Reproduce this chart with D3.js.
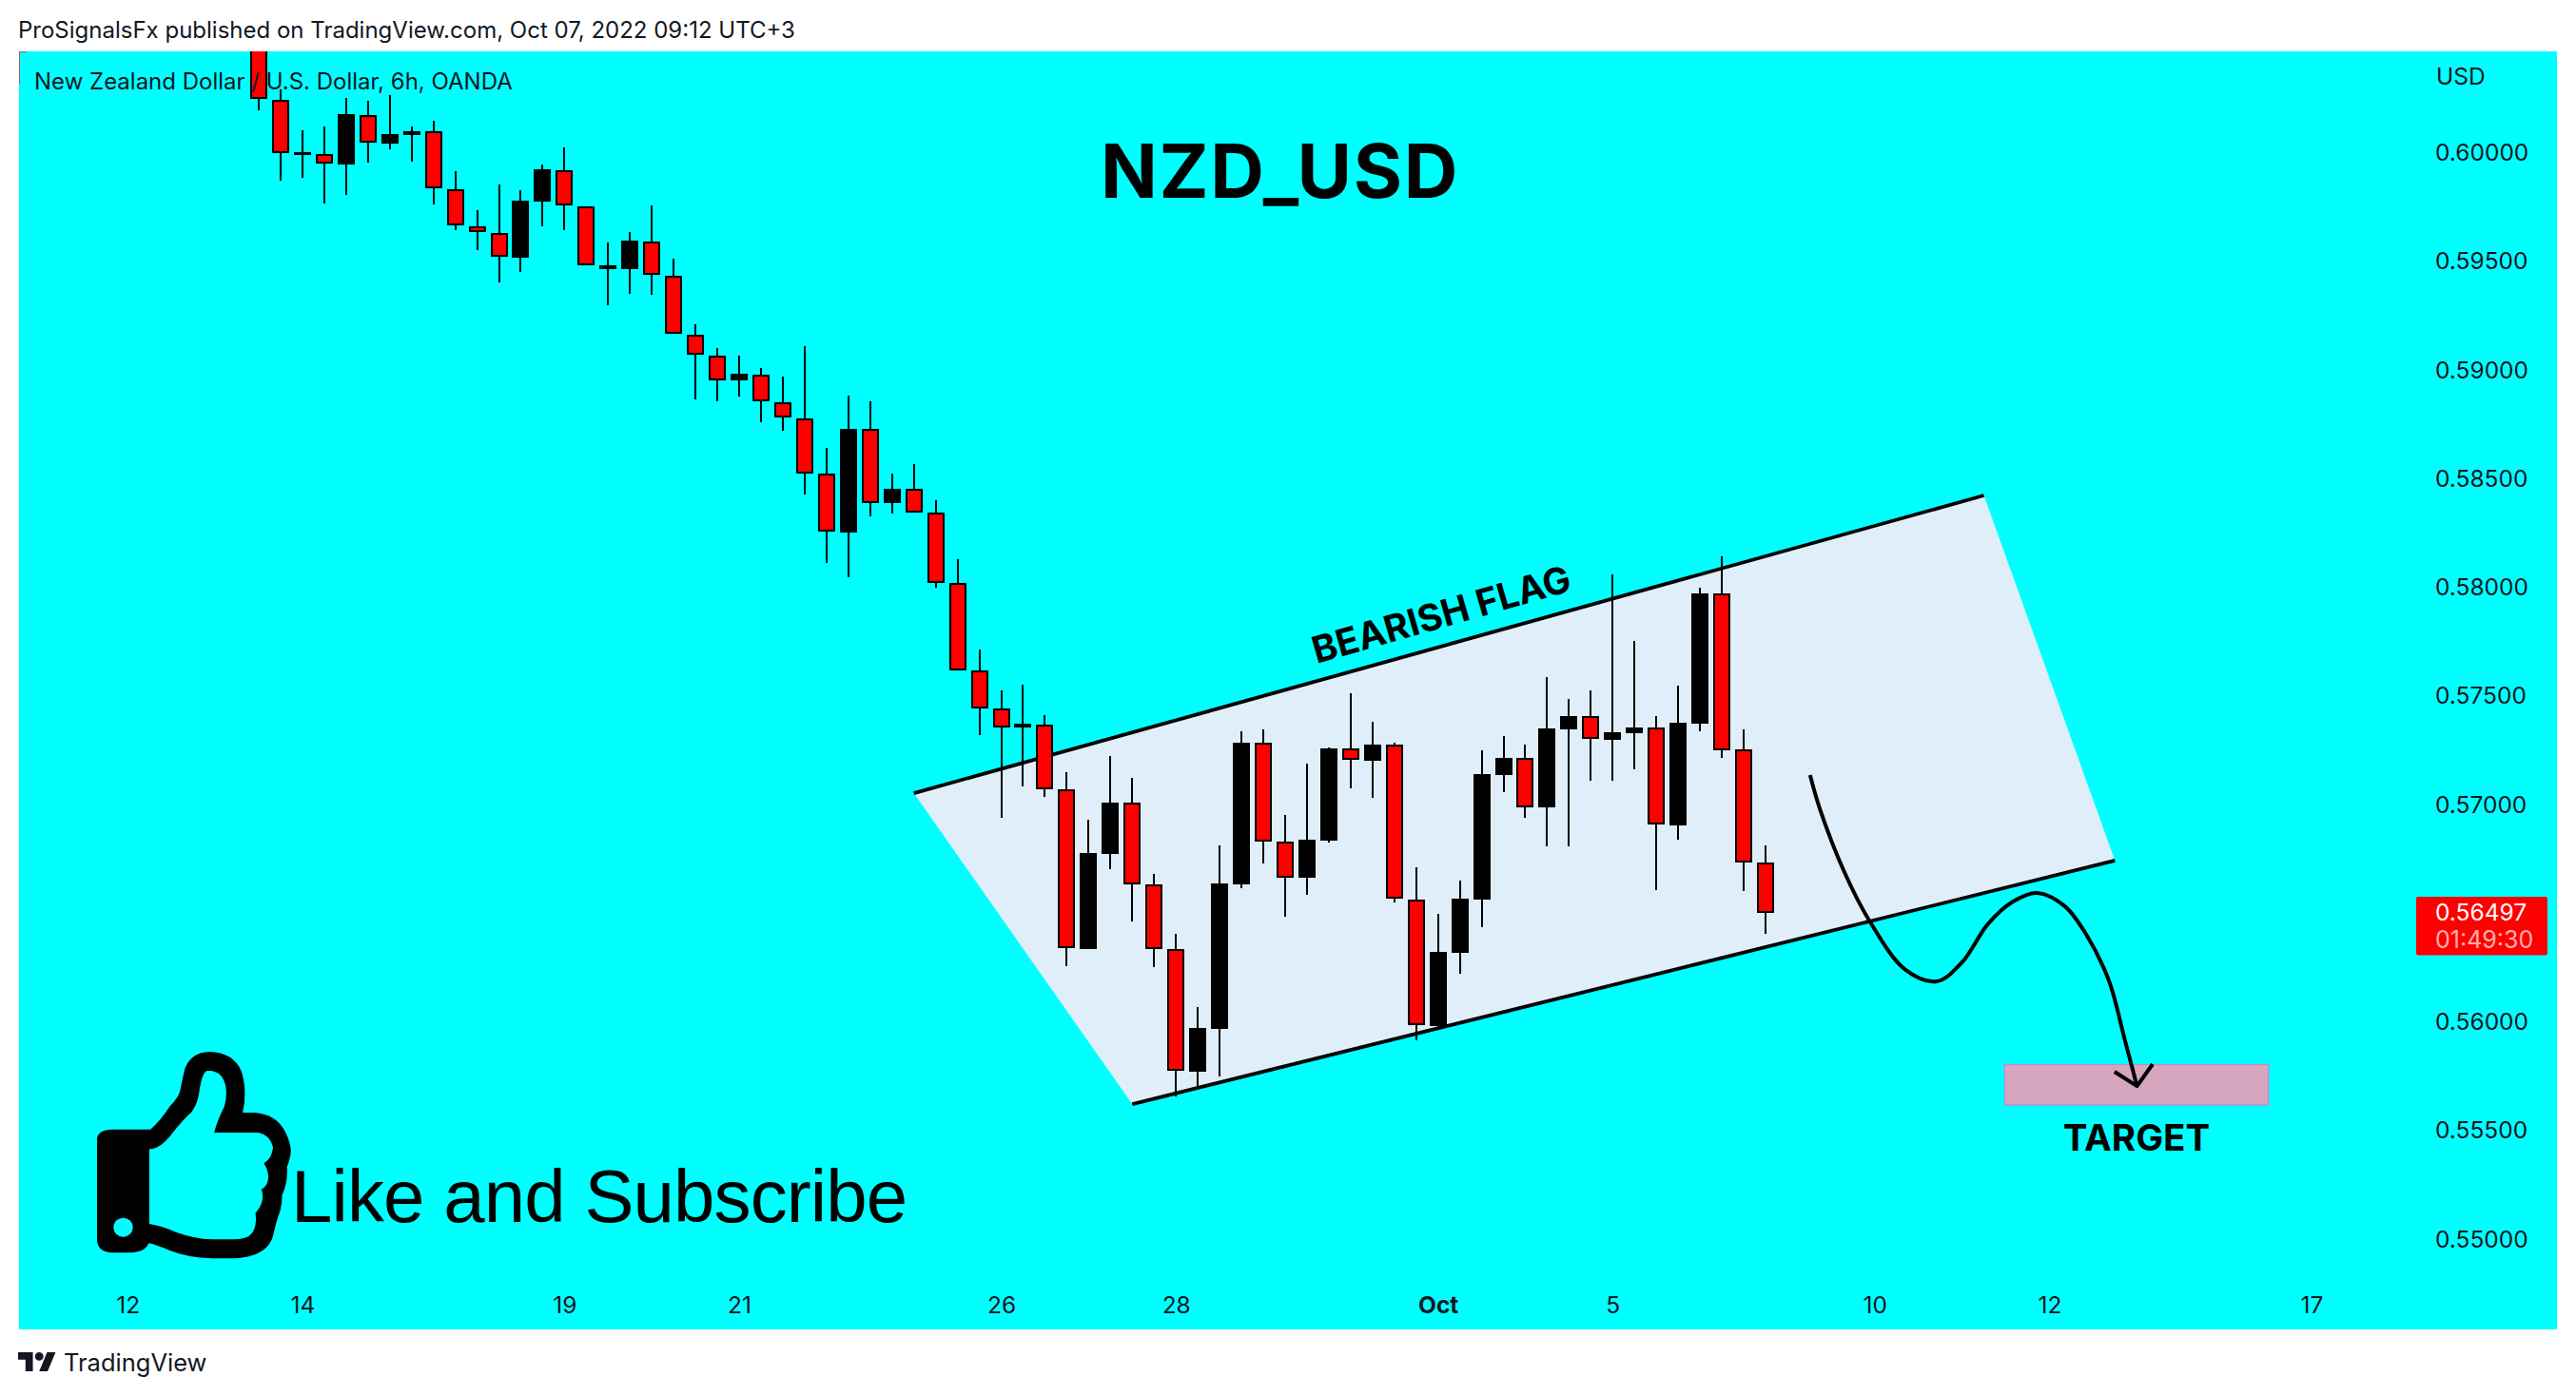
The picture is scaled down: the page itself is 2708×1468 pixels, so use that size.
<!DOCTYPE html>
<html><head><meta charset="utf-8">
<script src="https://cdn.jsdelivr.net/npm/d3@7/dist/d3.min.js"></script>
<style>html,body{margin:0;padding:0;background:#fff}svg{display:block}</style>
</head><body><div id="c"></div>
<script>
const openP=[0.60569,0.60241,0.59991,0.59991,0.59943,0.60171,0.60039,0.60079,0.60096,0.59829,0.59659,0.59628,0.59514,0.59772,0.59917,0.59751,0.59462,0.59462,0.59589,0.59431,0.59160,0.59063,0.58950,0.58976,0.58849,0.58775,0.58521,0.58249,0.58726,0.58385,0.58451,0.58341,0.58017,0.57615,0.57440,0.57352,0.57365,0.57068,0.56333,0.56770,0.57007,0.56630,0.56333,0.55768,0.55965,0.56630,0.57282,0.56827,0.56661,0.56831,0.57256,0.57199,0.57274,0.56560,0.55978,0.56315,0.56560,0.57134,0.57212,0.56985,0.57344,0.57405,0.57295,0.57326,0.57352,0.56902,0.57370,0.57969,0.57252,0.56731];
const closeP=[0.60245,0.59996,0.60000,0.59947,0.60175,0.60044,0.60083,0.60096,0.59834,0.59663,0.59632,0.59519,0.59777,0.59921,0.59755,0.59479,0.59479,0.59593,0.59435,0.59164,0.59068,0.58950,0.58980,0.58853,0.58779,0.58521,0.58254,0.58726,0.58385,0.58451,0.58341,0.58017,0.57615,0.57440,0.57352,0.57370,0.57068,0.56337,0.56775,0.57007,0.56630,0.56333,0.55772,0.55969,0.56635,0.57282,0.56827,0.56661,0.56836,0.57256,0.57203,0.57274,0.56565,0.55982,0.56319,0.56565,0.57138,0.57212,0.56985,0.57348,0.57405,0.57300,0.57330,0.57352,0.56906,0.57374,0.57969,0.57247,0.56731,0.56497];
const highP=[0.60620,0.60289,0.60101,0.60118,0.60249,0.60236,0.60263,0.60118,0.60144,0.59912,0.59733,0.59851,0.59825,0.59943,0.60022,0.59751,0.59584,0.59632,0.59755,0.59510,0.59208,0.59098,0.59063,0.59007,0.58967,0.59107,0.58639,0.58880,0.58853,0.58521,0.58565,0.58398,0.58127,0.57711,0.57523,0.57549,0.57409,0.57147,0.56928,0.57221,0.57120,0.56678,0.56403,0.56066,0.56810,0.57335,0.57344,0.56950,0.57186,0.57260,0.57510,0.57379,0.57282,0.56709,0.56494,0.56648,0.57247,0.57313,0.57274,0.57584,0.57484,0.57523,0.58057,0.57751,0.57405,0.57545,0.57996,0.58140,0.57344,0.56810];
const lowP=[0.60193,0.59869,0.59882,0.59764,0.59803,0.59952,0.60013,0.59956,0.59759,0.59641,0.59549,0.59400,0.59449,0.59659,0.59641,0.59479,0.59295,0.59348,0.59344,0.59164,0.58862,0.58853,0.58875,0.58757,0.58718,0.58425,0.58109,0.58044,0.58324,0.58337,0.58341,0.57996,0.57615,0.57317,0.56937,0.57081,0.57033,0.56254,0.56333,0.56700,0.56460,0.56250,0.55654,0.55694,0.55746,0.56613,0.56726,0.56481,0.56582,0.56823,0.57072,0.57028,0.56547,0.55912,0.55970,0.56219,0.56433,0.57055,0.56937,0.56805,0.56805,0.57107,0.57107,0.57160,0.56604,0.56836,0.57335,0.57212,0.56600,0.56403];

const priceTicks=[0.55,0.555,0.56,0.565,0.57,0.575,0.58,0.585,0.59,0.595,0.60];
const timeTickIdx=[-6,2,14,22,34,42,54,62,74,82,94];
const timeTickLabels=["12","14","19","21","26","28","Oct","5","10","12","17"];

const flagIdx=[30,79,85,40];
const flagPrice=[0.57050,0.58420,0.56740,0.55619];
const targetIdx=[79.95,92.03];
const targetPrice=[0.55801,0.55615];
const pathIdx=[71.04,71.48,72.61,73.75,75.40,76.84,78.01,79.17,80.30,81.44,82.70,83.72,84.72,85.46,86.01];
const pathPrice=[0.57133,0.56980,0.56687,0.56464,0.56238,0.56184,0.56273,0.56446,0.56549,0.56591,0.56530,0.56394,0.56188,0.55912,0.55702];
const headIdx=[84.98,86.01,86.73];
const headPrice=[0.55768,0.55702,0.55803];
const lastPrice=0.56497;

const W=2708,H=1468,INK="#131722";
const L=20,R=2688,T=54,B=1398;
const x=d3.scaleLinear().domain([0,69]).range([272,1856]);
const y=d3.scaleLinear().domain([0.55,0.60]).range([1302.5,160]);

const svg=d3.select("#c").append("svg").attr("width",W).attr("height",H).attr("viewBox",`0 0 ${W} ${H}`);
svg.append("rect").attr("width",W).attr("height",H).attr("fill","#fff");
svg.append("rect").attr("x",L).attr("y",T).attr("width",R-L).attr("height",B-T).attr("fill","#00FFFF");
svg.append("path").attr("d",`M${L+8} ${T+.5}H${L+.5}V${T+34}`).attr("fill","none").attr("stroke","#a8566a").attr("stroke-width",1);
svg.append("defs").append("clipPath").attr("id","pane").append("rect").attr("x",L).attr("y",T).attr("width",R-L).attr("height",B-T);
const pane=svg.append("g").attr("clip-path","url(#pane)");

// flag
const flagPts=flagIdx.map((d,i)=>[x(d),y(flagPrice[i])]);
pane.append("polygon").attr("points",flagPts.map(p=>p.join(",")).join(" ")).attr("fill","#E0EEF9");
[[0,1],[3,2]].forEach(([a,b])=>pane.append("line").attr("x1",flagPts[a][0]).attr("y1",flagPts[a][1]).attr("x2",flagPts[b][0]).attr("y2",flagPts[b][1]).attr("stroke","#000").attr("stroke-width",3.8));

// target
pane.append("rect").attr("x",x(targetIdx[0])).attr("y",y(targetPrice[0]))
 .attr("width",x(targetIdx[1])-x(targetIdx[0])).attr("height",y(targetPrice[1])-y(targetPrice[0]))
 .attr("fill","#D6A6BE").attr("stroke","#C985D2").attr("stroke-width",1.2);

// candles
const idx=d3.range(openP.length);
const cg=pane.append("g");
cg.selectAll("line").data(idx).join("line")
 .attr("x1",i=>Math.round(x(i))).attr("x2",i=>Math.round(x(i)))
 .attr("y1",i=>y(highP[i])).attr("y2",i=>y(lowP[i]))
 .attr("stroke","#000").attr("stroke-width",2).attr("shape-rendering","crispEdges");
cg.selectAll("rect").data(idx).join("rect")
 .attr("x",i=>Math.round(x(i))-8).attr("width",16)
 .attr("y",i=>y(Math.max(openP[i],closeP[i]))+1)
 .attr("height",i=>Math.max(Math.abs(y(openP[i])-y(closeP[i]))-2,0.5))
 .attr("fill",i=>closeP[i]<openP[i]?"#FF0000":"#000")
 .attr("stroke","#000").attr("stroke-width",2).attr("shape-rendering","crispEdges");

// projected path
const lineGen=d3.line().x(d=>x(d[0])).y(d=>y(d[1])).curve(d3.curveCatmullRom.alpha(0.5));
pane.append("path").attr("d",lineGen(pathIdx.map((d,i)=>[d,pathPrice[i]]))).attr("fill","none").attr("stroke","#000").attr("stroke-width",4).attr("stroke-linecap","butt");
pane.append("path").attr("d",d3.line().x(d=>x(d[0])).y(d=>y(d[1]))(headIdx.map((d,i)=>[d,headPrice[i]]))).attr("fill","none").attr("stroke","#000").attr("stroke-width",4).attr("stroke-linejoin","round");

// axes
const yAxis=d3.axisRight(y).tickValues(priceTicks).tickFormat(d3.format(".5f")).tickSize(0).tickPadding(0);
const yG=svg.append("g").attr("transform","translate(2560,0)").call(yAxis);
yG.select(".domain").remove();
yG.selectAll("text").attr("font-size",24.5).attr("fill",INK).attr("font-family","Inter,sans-serif").attr("dy","0.35em");
const xAxis=d3.axisBottom(x).tickValues(timeTickIdx).tickFormat((d,i)=>timeTickLabels[i]).tickSize(0).tickPadding(0);
const xG=svg.append("g").attr("transform","translate(0,1372)").call(xAxis);
xG.select(".domain").remove();
xG.selectAll("text").attr("font-size",24.5).attr("fill",INK).attr("font-family","Inter,sans-serif").attr("dy","0.35em").attr("y",0)
 .attr("font-weight",(d,i)=>timeTickLabels[i]==="Oct"?700:400);

function txt(s,px,py,size,o={}){return svg.append("text").attr("x",px).attr("y",py).attr("font-size",size).attr("fill",o.fill||"#000")
 .attr("font-weight",o.w||400).attr("text-anchor",o.a||"start").attr("font-family",o.f||"Inter,sans-serif").attr("transform",o.t||null).attr("fill-opacity",o.op||1).attr("letter-spacing",o.ls||null).text(s);}

txt("ProSignalsFx published on TradingView.com, Oct 07, 2022 09:12 UTC+3",19,39.5,24,{fill:INK});
txt("New Zealand Dollar / U.S. Dollar, 6h, OANDA",36,94,24,{fill:INK});
txt("USD",2561,89,24.5,{fill:INK});
txt("NZD_USD",1157,207.5,78.5,{w:700,ls:1.7});
txt("BEARISH FLAG",0,0,39,{w:700,t:"translate(1384,698) rotate(-16)"});
txt("TARGET",2246,1210,38.5,{w:700,a:"middle"});
txt("Like and Subscribe",306,1285,78,{f:"'Liberation Sans',sans-serif",ls:-0.9});

// last price label
svg.append("rect").attr("x",2540).attr("y",943).attr("width",138).attr("height",61.5).attr("rx",2).attr("fill","#FF0000");
txt(d3.format(".5f")(lastPrice),2560,968,24.5,{fill:"#fff"});
txt("01:49:30",2560,996.5,25,{fill:"#fff",op:0.7});

// thumb icon
const thumb=svg.append("g").attr("transform","translate(0,1050) scale(0.6378,0.3333)");
thumb.append("path").attr("fill-rule","evenodd").attr("fill","#000").attr("d",
"M160 440Q162 415 185 413L248 413Q265 385 280 340Q295 310 297 290Q300 260 305 220Q315 170 345 168Q385 170 398 230Q408 290 400 360L420 360Q455 365 470 420Q483 470 478 500Q475 525 473 530Q475 580 465 620Q465 660 458 690Q452 730 450 750Q440 815 385 820L350 820Q310 818 280 795Q255 775 245 772Q240 800 215 802L185 802Q162 800 160 765Z"+
"M246 475L250 475Q265 470 280 435Q300 385 315 360Q325 335 328 300Q332 240 340 229Q355 225 365 245Q378 280 370 340Q358 385 353 423L425 423Q445 430 450 470Q448 505 435 520Q445 550 441 580Q438 595 431 602Q438 640 421 677Q425 730 410 750Q400 760 385 760L350 760Q320 758 290 737Q265 716 246 711Z");
thumb.append("ellipse").attr("cx",203).attr("cy",722).attr("rx",16).attr("ry",30).attr("fill","#00FFFF");

// TradingView logo
svg.append("path").attr("transform","translate(19,1417.5) scale(1.11)").attr("fill",INK)
 .attr("d","M14 22H7V11H0V4h14v18zM28 22h-8l7.5-18h8L28 22zM20 4a4 4 0 1 1 0 8a4 4 0 0 1 0-8z");
txt("TradingView",67,1441.5,25.5,{fill:INK});
</script></body></html>
